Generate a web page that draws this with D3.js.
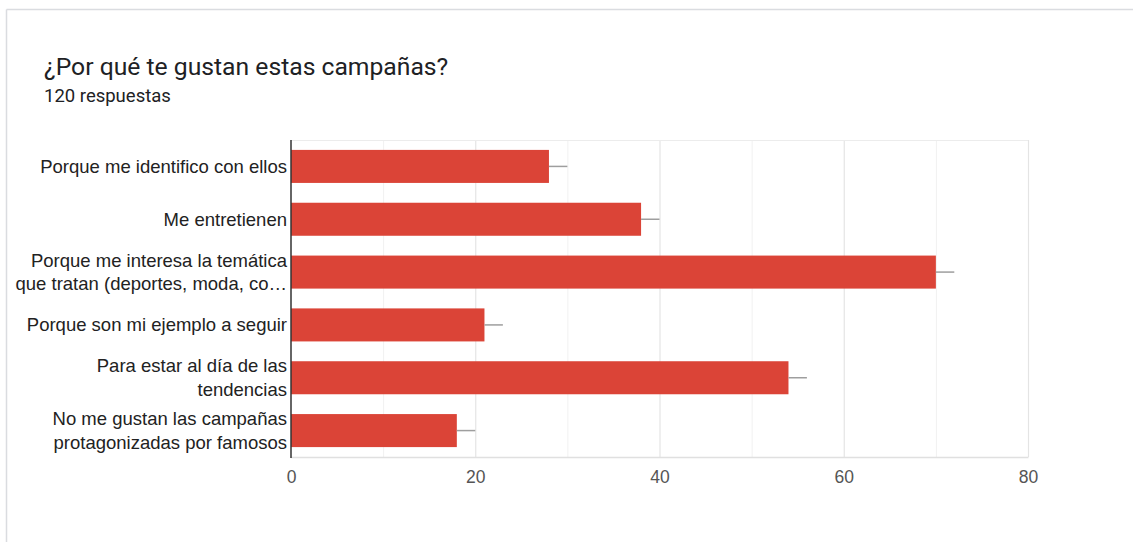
<!DOCTYPE html>
<html>
<head>
<meta charset="utf-8">
<script src="https://cdn.jsdelivr.net/npm/d3@7"></script>
<style>
  html, body { margin: 0; padding: 0; background: #ffffff; }
  svg { display: block; }
</style>
</head>
<body>
<svg id="chart" width="1133" height="542"></svg>
<script>
// Survey question and response count
const title = "¿Por qué te gustan estas campañas?";
const subtitle = "120 respuestas";

// Answer options (each label split into display lines)
const categories = [
  ["Porque me identifico con ellos"],
  ["Me entretienen"],
  ["Porque me interesa la temática", "que tratan (deportes, moda, co…"],
  ["Porque son mi ejemplo a seguir"],
  ["Para estar al día de las", "tendencias"],
  ["No me gustan las campañas", "protagonizadas por famosos"]
];

// Number of responses per option
const counts = [28, 38, 70, 21, 54, 18];

// Upper end of the whisker drawn to the right of each bar
const whiskerEnds = [30, 40, 72, 23, 56, 20];

// Axis ticks
const majorTicks = [0, 20, 40, 60, 80];
const minorTicks = [10, 30, 50, 70];

const svg = d3.select("#chart");

const plot = { left: 291, right: 1028, top: 140, bottom: 457 };

// Card frame
svg.append("line")
  .attr("x1", 6.5).attr("x2", 1133).attr("y1", 9.5).attr("y2", 9.5)
  .attr("stroke", "#dadce0").attr("stroke-width", 1.5);
svg.append("line")
  .attr("x1", 6.5).attr("x2", 6.5).attr("y1", 9.5).attr("y2", 542)
  .attr("stroke", "#dadce0").attr("stroke-width", 1.5);

// Heading
svg.append("text")
  .attr("x", 44).attr("y", 75)
  .attr("font-family", "Roboto, sans-serif")
  .attr("font-size", 24.7)
  .attr("fill", "#202124")
  .text(title);
svg.append("text")
  .attr("x", 44).attr("y", 102)
  .attr("font-family", "Roboto, sans-serif")
  .attr("font-size", 18.5)
  .attr("fill", "#202124")
  .text(subtitle);

const x = d3.scaleLinear().domain([0, 80]).range([plot.left, plot.right]);
const y = d3.scaleBand()
  .domain(d3.range(categories.length))
  .range([plot.top, plot.bottom])
  .paddingInner(0.375)
  .paddingOuter(0.1875);

// Gridlines
const grid = svg.append("g");
grid.selectAll("line.minor").data(minorTicks).join("line")
  .attr("class", "minor")
  .attr("x1", d => x(d) + 0.5).attr("x2", d => x(d) + 0.5)
  .attr("y1", plot.top).attr("y2", plot.bottom)
  .attr("stroke", "#f1f1f1").attr("stroke-width", 1);
grid.selectAll("line.major").data(majorTicks.slice(1)).join("line")
  .attr("class", "major")
  .attr("x1", d => x(d) + 0.5).attr("x2", d => x(d) + 0.5)
  .attr("y1", plot.top).attr("y2", plot.bottom)
  .attr("stroke", "#e4e4e4").attr("stroke-width", 1.2);
grid.append("line")
  .attr("x1", plot.left).attr("x2", plot.right)
  .attr("y1", plot.top + 0.5).attr("y2", plot.top + 0.5)
  .attr("stroke", "#ececec").attr("stroke-width", 1);
grid.append("line")
  .attr("x1", plot.left).attr("x2", plot.right + 0.5)
  .attr("y1", plot.bottom + 0.5).attr("y2", plot.bottom + 0.5)
  .attr("stroke", "#e0e0e0").attr("stroke-width", 1.5);

// Bars
svg.append("g").selectAll("rect").data(counts).join("rect")
  .attr("x", x(0))
  .attr("y", (d, i) => y(i))
  .attr("width", d => x(d) - x(0))
  .attr("height", y.bandwidth())
  .attr("fill", "#db4437");

// Whiskers
svg.append("g").selectAll("line").data(counts).join("line")
  .attr("x1", d => x(d))
  .attr("x2", (d, i) => x(whiskerEnds[i]))
  .attr("y1", (d, i) => y(i) + y.bandwidth() / 2)
  .attr("y2", (d, i) => y(i) + y.bandwidth() / 2)
  .attr("stroke", "#9e9e9e").attr("stroke-width", 1.5);

// Baseline axis
svg.append("line")
  .attr("x1", plot.left).attr("x2", plot.left)
  .attr("y1", plot.top).attr("y2", plot.bottom + 1)
  .attr("stroke", "#333333").attr("stroke-width", 1.5);

// Category labels
const lineH = 23.5;
const labels = svg.append("g")
  .attr("font-family", "'Liberation Sans', Arial, sans-serif")
  .attr("font-size", 18.5)
  .attr("fill", "#222222")
  .attr("text-anchor", "end");
categories.forEach((lines, i) => {
  const cy = y(i) + y.bandwidth() / 2;
  const t = labels.append("text").attr("x", plot.left - 4);
  lines.forEach((ln, j) => {
    t.append("tspan")
      .attr("x", plot.left - 4)
      .attr("y", cy + (j - (lines.length - 1) / 2) * lineH)
      .attr("dy", "0.35em")
      .text(ln);
  });
});

// Value axis tick labels
const xAxis = d3.axisBottom(x).tickValues(majorTicks).tickSize(0).tickPadding(14);
const ax = svg.append("g")
  .attr("transform", `translate(0,${plot.bottom})`)
  .call(xAxis);
ax.select(".domain").remove();
ax.selectAll("text")
  .attr("font-family", "'Liberation Sans', Arial, sans-serif")
  .attr("font-size", 17.5)
  .attr("fill", "#555555");
</script>
</body>
</html>
